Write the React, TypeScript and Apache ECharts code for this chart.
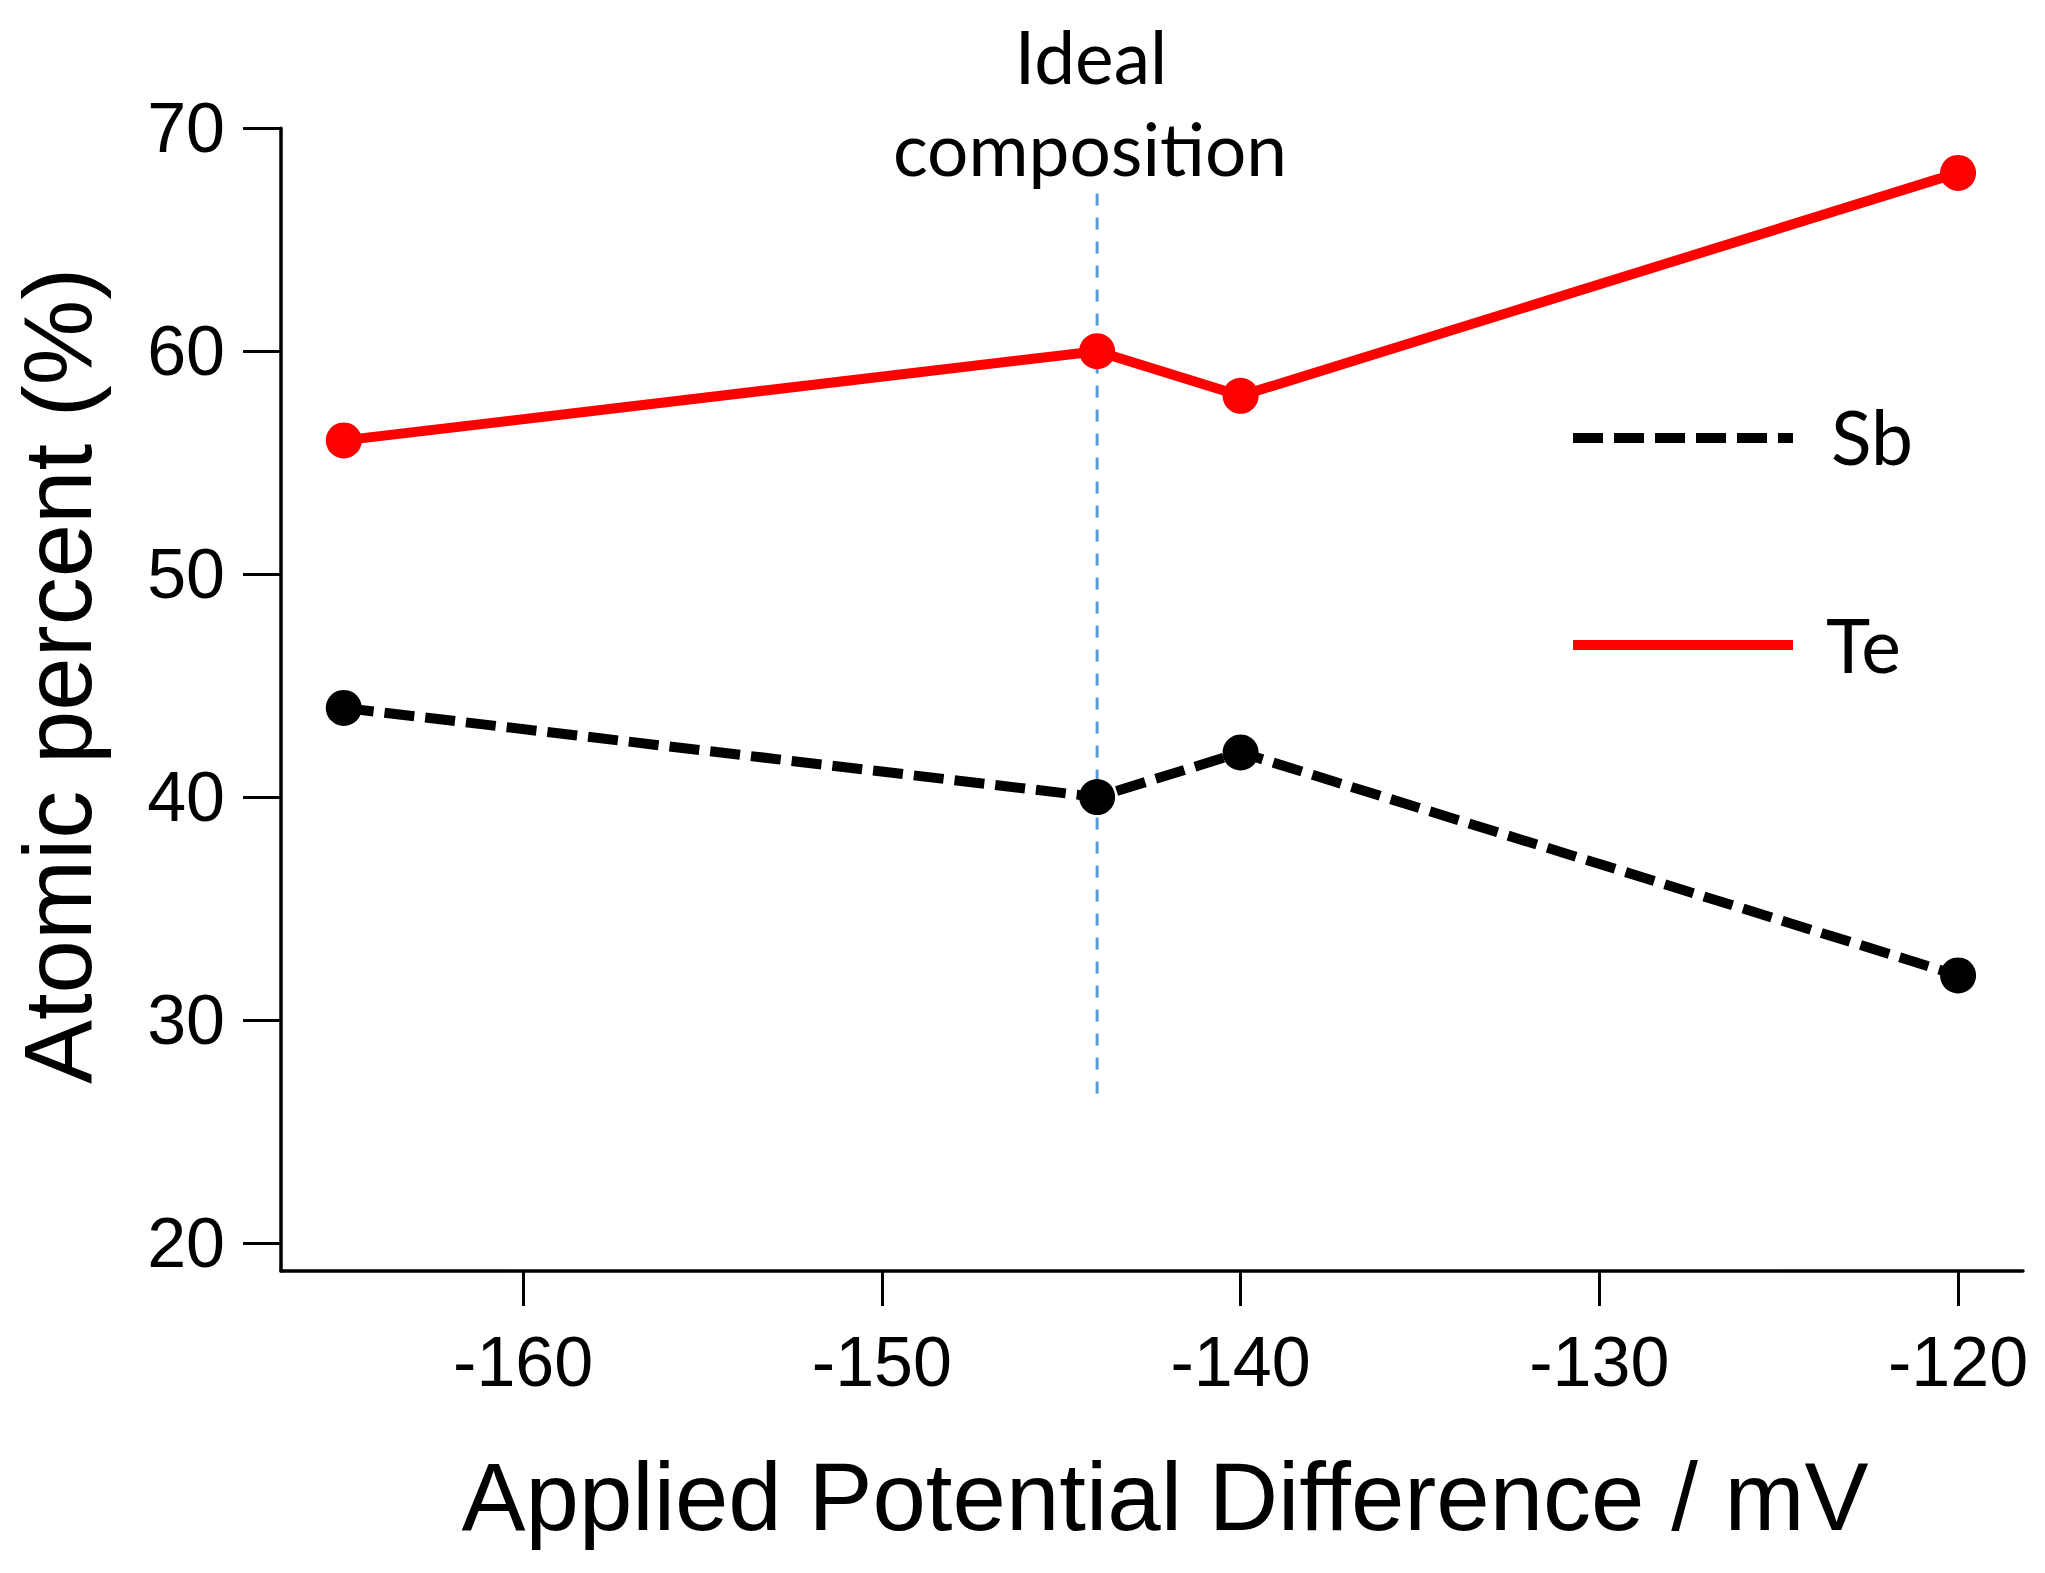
import React, { useEffect, useRef } from "react";
import * as echarts from "echarts";

const potentials = [-165, -144, -140, -120];
const teValues = [56, 60, 58, 68];
const sbValues = [44, 40, 42, 32];
const xTicks = [-160, -150, -140, -130, -120];
const yTicks = [20, 30, 40, 50, 60, 70];
const idealX = -144;
const idealRange = [26.7, 67.3];
const xRange = [-166.75, -118.19];
const yRange = [18.74, 70];

const ARIAL = "'Liberation Sans', Arial, sans-serif";
const CALIBRI = "Lato, 'Open Sans', sans-serif";

export default function App() {
  const ref = useRef<HTMLDivElement>(null);
  useEffect(() => {
    const chart = echarts.init(ref.current!, null, { renderer: "svg" });
    const te = potentials.map((x, i) => [x, teValues[i]]);
    const sb = potentials.map((x, i) => [x, sbValues[i]]);
    const ideal = idealRange.map((y) => [idealX, y]);
    chart.setOption({
      animation: false,
      backgroundColor: "#ffffff",
      grid: { left: 281, right: 22, top: 128.3, bottom: 302, containLabel: false },
      xAxis: {
        type: "value",
        min: xRange[0],
        max: xRange[1],
        splitLine: { show: false },
        axisLine: { show: true, onZero: false, lineStyle: { color: "#000", width: 3.5 } },
        axisTick: { show: true, customValues: xTicks, length: 35, lineStyle: { color: "#000", width: 3 } },
        axisLabel: { customValues: xTicks, fontSize: 70, fontFamily: ARIAL, color: "#000", margin: 56 },
      },
      yAxis: {
        type: "value",
        min: yRange[0],
        max: yRange[1],
        splitLine: { show: false },
        axisLine: { show: true, onZero: false, lineStyle: { color: "#000", width: 3.5 } },
        axisTick: { show: true, customValues: yTicks, length: 38, lineStyle: { color: "#000", width: 3 } },
        axisLabel: { customValues: yTicks, fontSize: 70, fontFamily: ARIAL, color: "#000", margin: 56 },
      },
      series: [
        {
          name: "Ideal composition",
          type: "line",
          data: ideal,
          symbol: "none",
          z: 1,
          lineStyle: { color: "#5B9BD5", width: 3, type: [12, 12] },
          silent: true,
        },
        {
          name: "Sb",
          type: "line",
          data: sb,
          symbol: "circle",
          symbolSize: 36,
          z: 3,
          itemStyle: { color: "#000" },
          lineStyle: { color: "#000", width: 10, type: [30, 11] },
        },
        {
          name: "Te",
          type: "line",
          data: te,
          symbol: "circle",
          symbolSize: 36,
          z: 3,
          itemStyle: { color: "#FF0000" },
          lineStyle: { color: "#FF0000", width: 10 },
        },
      ],
      graphic: [
        {
          type: "text",
          x: 1165,
          y: 1496,
          style: { text: "Applied Potential Difference / mV", font: `96px ${ARIAL}`, fill: "#000", textAlign: "center", textVerticalAlign: "middle" },
        },
        {
          type: "text",
          x: 57,
          y: 676,
          rotation: Math.PI / 2,
          style: { text: "Atomic percent (%)", font: `96px ${ARIAL}`, fill: "#000", textAlign: "center", textVerticalAlign: "middle" },
        },
        {
          type: "text",
          x: 1091,
          y: 56,
          style: { text: "Ideal", font: `73px ${CALIBRI}`, fill: "#000", textAlign: "center", textVerticalAlign: "middle" },
        },
        {
          type: "text",
          x: 1090,
          y: 148,
          style: { text: "composition", font: `73px ${CALIBRI}`, fill: "#000", textAlign: "center", textVerticalAlign: "middle" },
        },
        {
          type: "line",
          shape: { x1: 1573, y1: 438, x2: 1793, y2: 438 },
          style: { stroke: "#000", lineWidth: 10, lineDash: [30, 11] },
        },
        {
          type: "line",
          shape: { x1: 1573, y1: 645, x2: 1793, y2: 645 },
          style: { stroke: "#FF0000", lineWidth: 10 },
        },
        {
          type: "text",
          x: 1831,
          y: 436,
          style: { text: "Sb", font: `75px ${CALIBRI}`, fill: "#000", textAlign: "left", textVerticalAlign: "middle" },
        },
        {
          type: "text",
          x: 1826,
          y: 644,
          style: { text: "Te", font: `75px ${CALIBRI}`, fill: "#000", textAlign: "left", textVerticalAlign: "middle" },
        },
      ],
    });
    return () => chart.dispose();
  }, []);
  return (
    <div
      ref={ref}
      style={{ position: "fixed", left: 0, top: 0, width: 2045, height: 1573, background: "#fff" }}
    />
  );
}
